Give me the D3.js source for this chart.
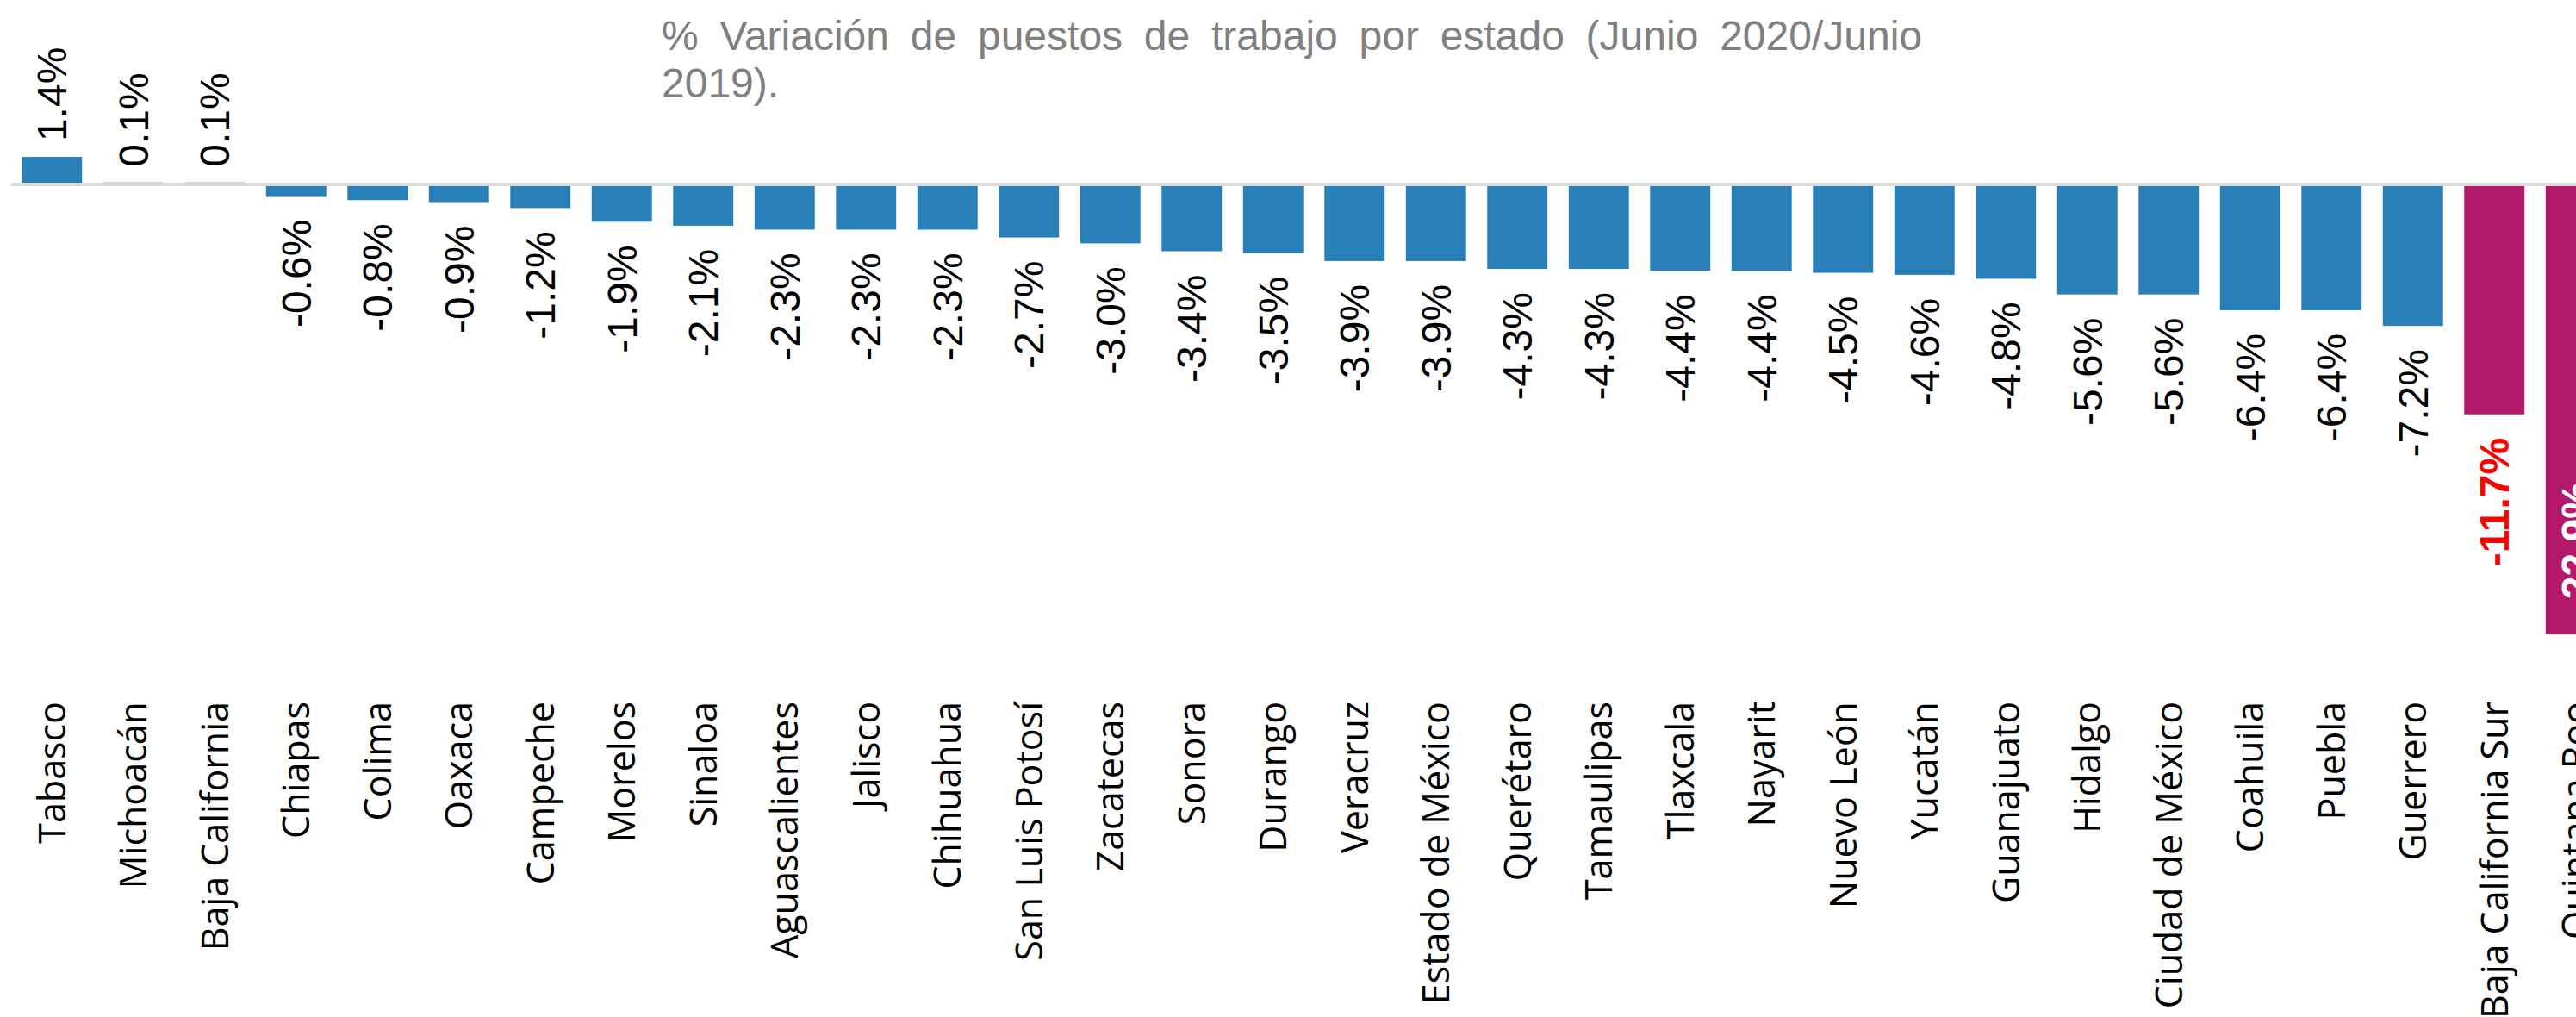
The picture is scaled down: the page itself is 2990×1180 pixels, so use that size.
<!DOCTYPE html>
<html>
<head>
<meta charset="utf-8">
<script src="https://cdn.jsdelivr.net/npm/d3@7"></script>
<style>
    body { margin: 0; background: #fff; overflow: hidden; }
    svg { display: block; }
</style>
</head>
<body>
<div class="canvas"></div>
<script>
// data
const states = [
    'Tabasco', 'Michoacán', 'Baja California', 'Chiapas', 'Colima', 'Oaxaca', 'Campeche',
    'Morelos', 'Sinaloa', 'Aguascalientes', 'Jalisco', 'Chihuahua', 'San Luis Potosí',
    'Zacatecas', 'Sonora', 'Durango', 'Veracruz', 'Estado de México', 'Querétaro',
    'Tamaulipas', 'Tlaxcala', 'Nayarit', 'Nuevo León', 'Yucatán', 'Guanajuato', 'Hidalgo',
    'Ciudad de México', 'Coahuila', 'Puebla', 'Guerrero', 'Baja California Sur', 'Quintana Roo'
]
const variation = [
    1.4, 0.1, 0.1, -0.6, -0.8, -0.9, -1.2, -1.9, -2.1, -2.3, -2.3, -2.3, -2.7, -3.0, -3.4,
    -3.5, -3.9, -3.9, -4.3, -4.3, -4.4, -4.4, -4.5, -4.6, -4.8, -5.6, -5.6, -6.4, -6.4,
    -7.2, -11.7, -22.9
]
const highlighted = ['Baja California Sur', 'Quintana Roo']
const titleLines = [
    '% Variación de puestos de trabajo por estado (Junio 2020/Junio',
    '2019).'
]

const width = 2990,
    height = 1180,
    zeroY = 214,
    pxPerPoint = 22.8,
    blue = '#2980b9',
    magenta = '#b3186a'

const data = states.map((s, i) => ({ state: s, value: variation[i] }))

const svg = d3.select('.canvas').append('svg')
    .attr('width', width)
    .attr('height', height)

const x = d3.scaleBand()
    .domain(states)
    .range([13, 13 + 32 * 94.5])
    .paddingInner(0.26)
    .paddingOuter(0.13)

const y = d3.scaleLinear()
    .domain([0, -23])
    .range([zeroY, zeroY + 23 * pxPerPoint])

// BARS
svg.selectAll('.bar')
    .data(data)
    .enter().append('rect').classed('bar', true)
    .attr('x', d => x(d.state))
    .attr('width', x.bandwidth())
    .attr('y', d => Math.min(y(d.value), y(0)))
    .attr('height', d => Math.abs(y(d.value) - y(0)))
    .attr('fill', d => highlighted.includes(d.state) ? magenta : blue)

// zero line
svg.append('line')
    .attr('x1', 13)
    .attr('x2', width)
    .attr('y1', y(0))
    .attr('y2', y(0))
    .attr('stroke', '#d9d9d9')
    .attr('stroke-width', 4)

// VALUE LABELS
svg.selectAll('.val')
    .data(data)
    .enter().append('text').classed('val', true)
    .text(d => d.value.toFixed(1) + '%')
    .attr('font-family', 'Liberation Sans, Arial, sans-serif')
    .attr('font-size', 48)
    .attr('dy', '0.35em')
    .attr('font-weight', d => highlighted.includes(d.state) ? 'bold' : 'normal')
    .attr('fill', d => {
        if (d.state === 'Quintana Roo') return '#ffffff'
        if (d.state === 'Baja California Sur') return '#ff0000'
        return '#000000'
    })
    .attr('text-anchor', d => (d.value >= 0 || d.state === 'Quintana Roo') ? 'start' : 'end')
    .attr('transform', d => {
        let cx = x(d.state) + x.bandwidth() / 2
        let ly
        if (d.state === 'Quintana Roo') ly = y(d.value) - 25
        else if (d.value >= 0) ly = y(d.value) - 18
        else ly = y(d.value) + 27
        return `translate(${cx},${ly}) rotate(-90)`
    })

// CATEGORY LABELS
svg.selectAll('.cat')
    .data(data)
    .enter().append('text').classed('cat', true)
    .text(d => d.state)
    .attr('font-family', 'Open Sans, Noto Sans, sans-serif')
    .attr('font-size', 43)
    .attr('fill', '#000')
    .attr('dy', '0.36em')
    .attr('text-anchor', 'end')
    .attr('transform', d => `translate(${x(d.state) + x.bandwidth() / 2},814) rotate(-90)`)

// TITLE (justified first line)
const title = svg.append('g').attr('class', 'title')
const titleLeft = 768, titleRight = 2231
titleLines.forEach((line, i) => {
    let t = title.append('text')
        .text(line)
        .attr('x', titleLeft)
        .attr('y', 58 + i * 55)
        .attr('font-family', 'Liberation Sans, Arial, sans-serif')
        .attr('font-size', 48)
        .attr('fill', '#808080')
    if (i === 0) {
        let natural = t.node().getComputedTextLength()
        let gaps = line.split(' ').length - 1
        t.attr('word-spacing', (titleRight - titleLeft - natural) / gaps)
    }
})
</script>
</body>
</html>
